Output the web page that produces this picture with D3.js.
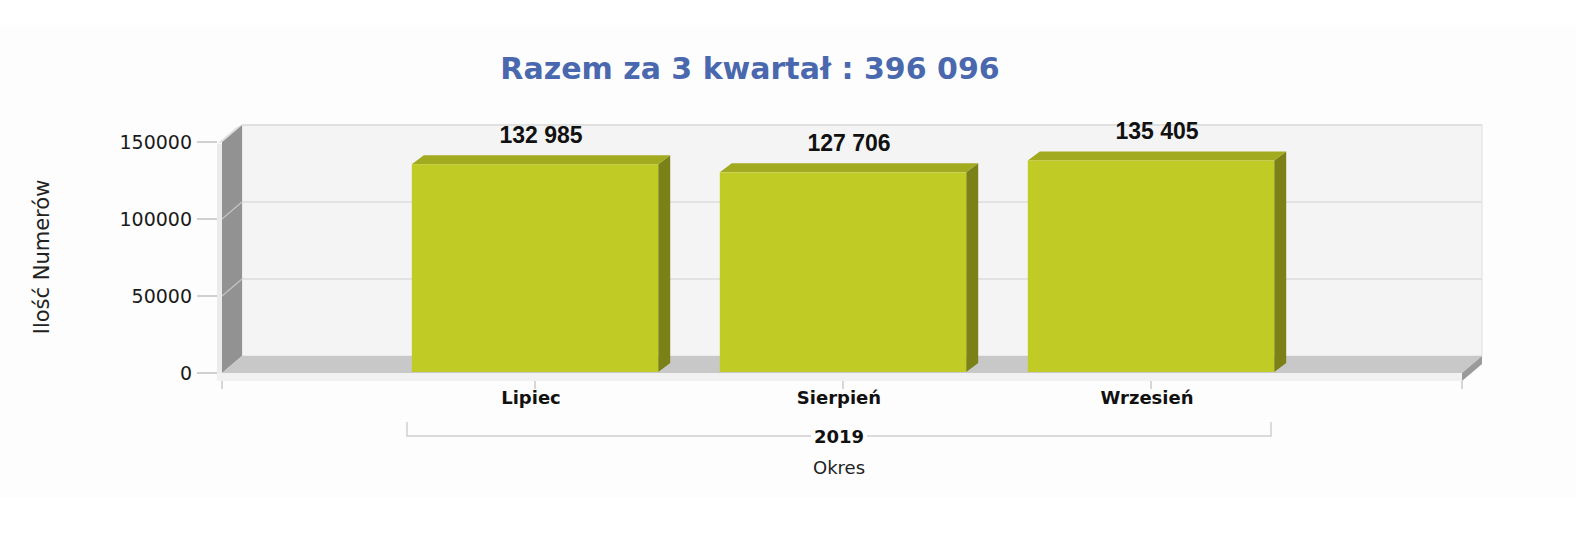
<!DOCTYPE html>
<html>
<head>
<meta charset="utf-8">
<script src="https://cdn.jsdelivr.net/npm/d3@7"></script>
<style>
  body { margin: 0; background: #ffffff; }
  svg { display: block; }
</style>
</head>
<body>
<svg id="chart" width="1576" height="560"></svg>
<script>
var months = ["Lipiec", "Sierpień", "Wrzesień"];
var values = [132985, 127706, 135405];
var yTicks = [0, 50000, 100000, 150000];
var year = "2019";
var title = "Razem za 3 kwartał : 396 096";

var svg = d3.select("#chart");

// front plane of the 3D box
var plotL = 222, plotR = 1462, plotB = 373, plotT = 142;
var depthX = 20, depthY = -17;       // wall depth
var barDX = 12, barDY = -9;          // bar depth
var barLift = 4;

var x = d3.scalePoint().domain(months).range([plotL + 5, plotR - 3]).padding(1);
var y = d3.scaleLinear().domain([0, 150000]).range([plotB, plotT]);
var barW = x.step() * 0.8;

var fmt = function(v) { return d3.format(",")(v).replace(/,/g, " "); };
var pts = function(p) { return p.map(function(q) { return q.join(","); }).join(" "); };

function poly(p, fill) {
    return svg.append("polygon").attr("points", pts(p)).attr("fill", fill);
}

// faint chart background
svg.append("rect").attr("x", 0).attr("y", 25).attr("width", 1576).attr("height", 473)
    .attr("fill", "#fdfdfd");

// back wall
svg.append("rect")
    .attr("x", plotL + depthX).attr("y", plotT + depthY)
    .attr("width", plotR - plotL).attr("height", plotB - plotT)
    .attr("fill", "#f4f4f4").attr("stroke", "#e0e0e0");

// grid on back wall
yTicks.slice(1).forEach(function(t) {
    svg.append("line")
        .attr("x1", plotL + depthX).attr("x2", plotR + depthX)
        .attr("y1", y(t) + depthY).attr("y2", y(t) + depthY)
        .attr("stroke", "#dcdcdc").attr("stroke-width", 1.5);
});

// left wall
poly([[plotL, plotT], [plotL + depthX, plotT + depthY], [plotL + depthX, plotB + depthY], [plotL, plotB]], "#929292");
yTicks.slice(1, 3).forEach(function(t) {
    svg.append("line")
        .attr("x1", plotL).attr("y1", y(t))
        .attr("x2", plotL + depthX).attr("y2", y(t) + depthY)
        .attr("stroke", "#c4c4c4").attr("stroke-width", 1.2);
});
// wall thickness
poly([[plotL - 5, plotT + 2], [plotL - 5 + depthX, plotT + depthY + 2], [plotL + depthX, plotT + depthY], [plotL, plotT]], "#dcdcdc");
svg.append("rect").attr("x", plotL - 5).attr("y", plotT + 2).attr("width", 5).attr("height", plotB - plotT + 6)
    .attr("fill", "#ebebeb");

// floor
poly([[plotL, plotB], [plotL + depthX, plotB + depthY], [plotR + depthX, plotB + depthY], [plotR, plotB]], "#c8c8c8");
svg.append("rect").attr("x", plotL - 5).attr("y", plotB).attr("width", plotR - plotL + 5).attr("height", 8)
    .attr("fill", "#f1f1f1");
poly([[plotR, plotB], [plotR + depthX, plotB + depthY], [plotR + depthX, plotB + depthY + 8], [plotR, plotB + 8]], "#9a9a9a");

// y axis ticks and labels
yTicks.forEach(function(t) {
    svg.append("line")
        .attr("x1", 197).attr("x2", plotL - 5)
        .attr("y1", y(t)).attr("y2", y(t))
        .attr("stroke", "#c0c0c0").attr("stroke-width", 1.5);
    svg.append("text")
        .attr("x", 192).attr("y", y(t) + 7)
        .attr("text-anchor", "end")
        .attr("font-family", "DejaVu Sans").attr("font-size", 19)
        .attr("fill", "#1a1a1a")
        .text(t);
});

// category ticks
[plotL, plotR].concat(months.map(function(m) { return x(m); })).forEach(function(cx) {
    svg.append("line")
        .attr("x1", cx).attr("x2", cx)
        .attr("y1", plotB + 8).attr("y2", plotB + 16)
        .attr("stroke", "#c8c8c8").attr("stroke-width", 1.5);
});

// bars
var bars = svg.append("g").selectAll("g")
    .data(values)
    .enter().append("g");

bars.each(function(v, i) {
    var g = d3.select(this);
    var x0 = x(months[i]) - barW / 2, x1 = x0 + barW;
    var yt = y(v) - barLift, yb = plotB - 1;
    g.append("polygon")
        .attr("points", pts([[x1, yt], [x1 + barDX, yt + barDY], [x1 + barDX, yb + barDY], [x1, yb]]))
        .attr("fill", "#7b8117");
    g.append("polygon")
        .attr("points", pts([[x0, yt], [x0 + barDX, yt + barDY], [x1 + barDX, yt + barDY], [x1, yt]]))
        .attr("fill", "#a2aa20");
    g.append("rect")
        .attr("x", x0).attr("y", yt)
        .attr("width", barW).attr("height", yb - yt)
        .attr("fill", "#c0cc25");
    g.append("text")
        .attr("x", x(months[i]) + barDX / 2).attr("y", yt + barDY - 12)
        .attr("text-anchor", "middle")
        .attr("font-family", "Liberation Sans Narrow, Liberation Sans, Arial")
        .attr("font-weight", "bold").attr("font-size", 23)
        .attr("fill", "#111")
        .text(fmt(v));
});

// category labels
months.forEach(function(m) {
    svg.append("text")
        .attr("x", x(m) - 4).attr("y", 404)
        .attr("text-anchor", "middle")
        .attr("font-family", "DejaVu Sans").attr("font-weight", "bold").attr("font-size", 18)
        .attr("fill", "#111")
        .text(m);
});

// year bracket
var bx0 = x(months[0]) - 128, bx1 = x(months[2]) + 120, by = 436;
svg.append("path")
    .attr("d", "M" + bx0 + "," + (by - 14) + "V" + by + "H" + bx1 + "V" + (by - 14))
    .attr("fill", "none").attr("stroke", "#cfcfcf").attr("stroke-width", 1.5);
var mask = svg.append("rect").attr("fill", "#fdfdfd");
var yr = svg.append("text")
    .attr("x", (bx0 + bx1) / 2).attr("y", by + 7)
    .attr("text-anchor", "middle")
    .attr("font-family", "DejaVu Sans").attr("font-weight", "bold").attr("font-size", 18)
    .attr("fill", "#111")
    .text(year);
var bb = yr.node().getBBox();
mask.attr("x", bb.x - 3).attr("y", by - 3).attr("width", bb.width + 6).attr("height", 6);

// axis titles
svg.append("text")
    .attr("x", (bx0 + bx1) / 2).attr("y", 474)
    .attr("text-anchor", "middle")
    .attr("font-family", "DejaVu Sans").attr("font-size", 18)
    .attr("fill", "#222")
    .text("Okres");

svg.append("text")
    .attr("transform", "translate(49,257) rotate(-90)")
    .attr("text-anchor", "middle")
    .attr("font-family", "DejaVu Sans").attr("font-size", 21)
    .attr("fill", "#222")
    .text("Ilość Numerów");

svg.append("text")
    .attr("x", 750).attr("y", 79)
    .attr("text-anchor", "middle")
    .attr("font-family", "DejaVu Sans").attr("font-weight", "bold").attr("font-size", 30)
    .attr("fill", "#4a68ad")
    .text(title);
</script>
</body>
</html>
